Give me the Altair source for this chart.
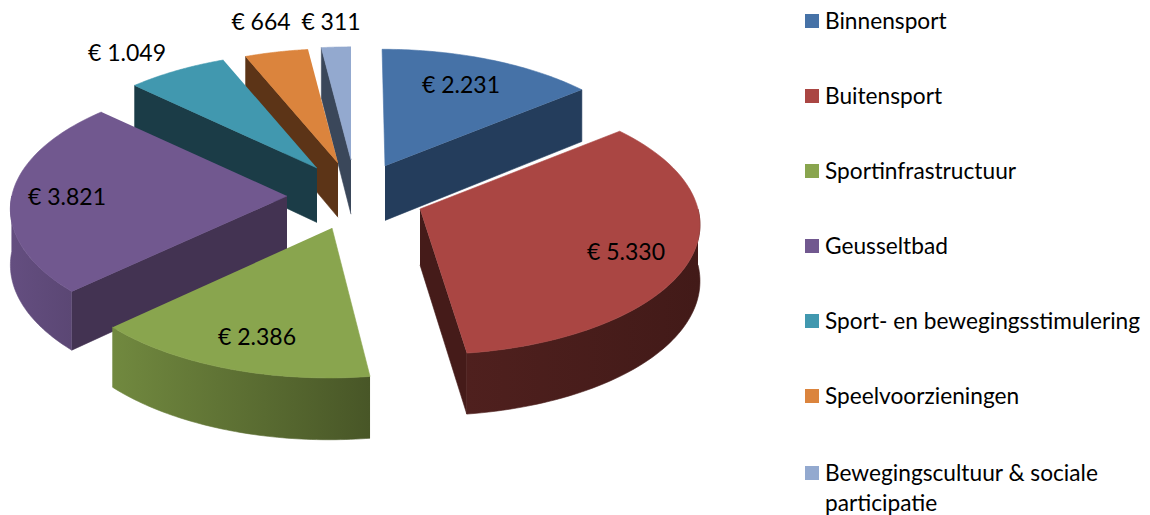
import math
import altair as alt
import pandas as pd

# ---- chart values ----
series = ["Binnensport", "Buitensport", "Sportinfrastructuur", "Geusseltbad",
          "Sport- en bewegingsstimulering", "Speelvoorzieningen",
          "Bewegingscultuur & sociale\nparticipatie"]
values = [2231, 5330, 2386, 3821, 1049, 664, 311]
value_labels = ["€ 2.231", "€ 5.330", "€ 2.386", "€ 3.821", "€ 1.049", "€ 664", "€ 311"]

# ---- styling ----
top_colors = ["#4672A7", "#AA4643", "#89A54E", "#71588F", "#4198AF", "#DB843D", "#93A9CF"]
cut_colors = ["#243D5C", "#451B19", "#4A5A2A", "#433352", "#1B3C47", "#5C3417", "#3A475A"]
wall_stops = [None, ("#4F201E", "#421A18"), ("#71893F", "#485627"), ("#644E80", "#5B4774"),
              None, None, None]
apex = [(385, 166), (420, 209), (332, 228), (287, 196), (317, 168), (338, 163), (351, 160)]
piece_scale = [0.98, 1.0, 1.0, 0.99, 0.973, 0.96, 0.95]
piece_yscale = [1.0, 1.0, 1.03, 1.0, 1.0, 1.0, 1.0]
piece_shear = [0.025, 0.04, -0.02, 0, 0, 0, 0]
cut_edge = ["end", "end", None, "start", "start", "start", "start"]
label_xy = [(461, 86), (626, 253), (257, 338), (67, 198), (127, 54), (261, 23), (331, 23)]
draw_order = [6, 5, 4, 0, 3, 2, 1]
A, B, K = 278, 131, 0.10
FONT = "Lato"
LABEL_SIZE = 23
LEGEND_SIZE = 22.7
X_DOM = [8, 1142]
Y_DOM = [515, 8]

total = sum(values)
bounds = [0]
for v in values:
    bounds.append(bounds[-1] + v / total * 2 * math.pi)


def top_point(i, t):
    d = 1 + K * math.cos(t)
    s = piece_scale[i]
    dy = -B * s * piece_yscale[i] * math.cos(t) / d
    return apex[i][0] + A * s * math.sin(t) / d + piece_shear[i] * dy, apex[i][1] + dy


def lower(p):
    return p[0], p[1] + 50 + 0.035 * (p[1] - 40)


def sweep(i, a, b, n=60):
    return [top_point(i, a + (b - a) * j / n) for j in range(n + 1)]


x_enc = alt.X("x:Q", scale=alt.Scale(domain=X_DOM, nice=False, zero=False), axis=None)
y_enc = alt.Y("y:Q", scale=alt.Scale(domain=Y_DOM, nice=False, zero=False), axis=None)


def face(pts, paint):
    df = pd.DataFrame({"x": [p[0] for p in pts], "y": [p[1] for p in pts], "i": range(len(pts))})
    return alt.Chart(df).mark_line(fill=paint, stroke=paint, strokeWidth=0.6).encode(
        x=x_enc, y=y_enc, order="i:Q")


layers = []
for i in draw_order:
    a, b = bounds[i], bounds[i + 1]
    ap = apex[i]
    if cut_edge[i]:
        edge = top_point(i, b if cut_edge[i] == "end" else a)
        layers.append(face([ap, edge, lower(edge), lower(ap)], cut_colors[i]))
    lo, hi = max(a, math.pi / 2), min(b, 3 * math.pi / 2)
    if hi > lo:
        arc = sweep(i, lo, hi)
        stops = wall_stops[i]
        paint = alt.LinearGradient(
            gradient="linear", x1=0, x2=1, y1=0, y2=0,
            stops=[alt.GradientStop(offset=0, color=stops[0]),
                   alt.GradientStop(offset=1, color=stops[1])])
        layers.append(face(arc + [lower(p) for p in reversed(arc)], paint))
    layers.append(face([ap] + sweep(i, a, b), top_colors[i]))

labels = pd.DataFrame({"x": [p[0] for p in label_xy], "y": [p[1] for p in label_xy], "t": value_labels})
layers.append(alt.Chart(labels).mark_text(font=FONT, fontSize=LABEL_SIZE, color="#000000").encode(
    x=x_enc, y=y_enc, text="t:N"))

legend_y = [21, 96, 171, 246, 321, 396, 473]
leg = pd.DataFrame({"s": series, "y": legend_y, "by": [v + 8 for v in legend_y],
                    "x": [812] * 7, "tx": [825] * 7})
layers.append(alt.Chart(leg).mark_square(size=196, opacity=1, strokeWidth=0).encode(
    x=x_enc, y=y_enc,
    color=alt.Color("s:N", scale=alt.Scale(domain=series, range=top_colors), legend=None)))
layers.append(alt.Chart(leg).mark_text(font=FONT, fontSize=LEGEND_SIZE, align="left", baseline="alphabetic",
                                       lineBreak="\n", lineHeight=30, color="#000000").encode(
    x=alt.X("tx:Q", scale=alt.Scale(domain=X_DOM, nice=False, zero=False), axis=None),
    y=alt.Y("by:Q", scale=alt.Scale(domain=Y_DOM, nice=False, zero=False), axis=None),
    text="s:N"))

chart = alt.layer(*layers).properties(
    width=1134, height=507, padding=0, background="white",
    autosize=alt.AutoSizeParams(type="none"),
).configure_view(stroke=None)

chart.save("out.html", embed_options={"renderer": "svg", "actions": False})
